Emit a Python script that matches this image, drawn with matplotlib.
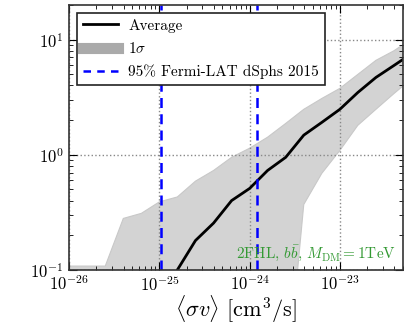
import matplotlib
matplotlib.use("Agg")
import matplotlib.pyplot as plt
from matplotlib.lines import Line2D
import numpy as np

plt.rcParams['font.family'] = 'serif'
plt.rcParams['font.serif'] = ['cmr10']
plt.rcParams['mathtext.fontset'] = 'cm'
plt.rcParams['axes.formatter.use_mathtext'] = True
plt.rcParams['axes.unicode_minus'] = False

# cross section grid (0.2 decade steps)
sigv = [1.0e-26, 1.58e-26, 2.51e-26, 3.98e-26, 6.31e-26, 1.0e-25, 1.58e-25,
        2.51e-25, 3.98e-25, 6.31e-25, 1.0e-24, 1.58e-24, 2.51e-24, 3.98e-24,
        6.31e-24, 1.0e-23, 1.58e-23, 2.51e-23, 3.98e-23, 6.31e-23]
n_avg = [0.001, 0.001, 0.001, 0.003, 0.01, 0.04, 0.1, 0.18, 0.255, 0.40,
         0.51, 0.73, 0.95, 1.48, 1.91, 2.48, 3.47, 4.69, 5.96, 7.6]
n_up = [0.108, 0.108, 0.108, 0.28, 0.31, 0.39, 0.43, 0.59, 0.73, 0.95,
        1.14, 1.42, 1.87, 2.48, 3.08, 3.77, 4.98, 6.6, 8.0, 10.2]
n_lo = [0.001, 0.001, 0.001, 0.001, 0.001, 0.001, 0.001, 0.001, 0.001, 0.001,
        0.001, 0.001, 0.008, 0.37, 0.69, 1.09, 1.80, 2.48, 3.4, 4.6]

# Fermi-LAT dSphs 2015 95% limits
fermi_limits = [1.03e-25, 1.2e-24]

fig = plt.figure(figsize=(4.07, 3.26), dpi=100)
ax = fig.add_axes([0.170, 0.172, 0.820, 0.813])

ax.fill_between(sigv, n_lo, n_up, color='#d3d3d3', edgecolor='#c8c8c8', lw=0.8)
ax.plot(sigv, n_avg, color='k', lw=2)
for xv in fermi_limits:
    ax.axvline(xv, color='b', ls='--', lw=1.8, dashes=(4, 2.5))

ax.set_xscale('log')
ax.set_yscale('log')
ax.set_xlim(1e-26, 5e-23)
ax.set_ylim(0.1, 20)

ax.grid(True, which='major', ls=':', color='#888888', lw=1)
ax.tick_params(which='both', direction='in', top=True, right=True, labelsize=12)
ax.tick_params(which='major', length=6)
ax.tick_params(axis='x', which='major', pad=3)
ax.tick_params(axis='y', which='major', pad=4)
ax.tick_params(which='minor', length=3)
for sp in ax.spines.values():
    sp.set_color('#333333')
    sp.set_linewidth(1.2)

ax.set_xlabel(r'$\langle\sigma v\rangle$ [cm$^3$/s]', fontsize=16)
ax.set_ylabel(r'$N_{\rm Detectable}$', fontsize=16)
ax.xaxis.set_label_coords(0.5, -0.086)
ax.yaxis.set_label_coords(-0.2, 0.5)

handles = [Line2D([], [], color='k', lw=2),
           Line2D([], [], color='#aaaaaa', lw=8),
           Line2D([], [], color='b', ls='--', lw=1.8, dashes=(3, 2.5))]
labels = ['Average', r'1$\sigma$', '95% Fermi-LAT dSphs 2015']
leg = ax.legend(handles, labels, loc='upper left', fontsize=11, fancybox=False,
                framealpha=1, handlelength=2.3, handletextpad=0.65,
                borderaxespad=0.5, labelspacing=0.55)
leg.get_frame().set_edgecolor('#222222')
leg.get_frame().set_linewidth(1.2)

ax.text(0.98, 0.045, r'2FHL, $b\bar{b}$, $M_{\rm DM} = 1$TeV', transform=ax.transAxes,
        ha='right', va='baseline', color='#339933', fontsize=11)

fig.savefig('out.png', dpi=100)
